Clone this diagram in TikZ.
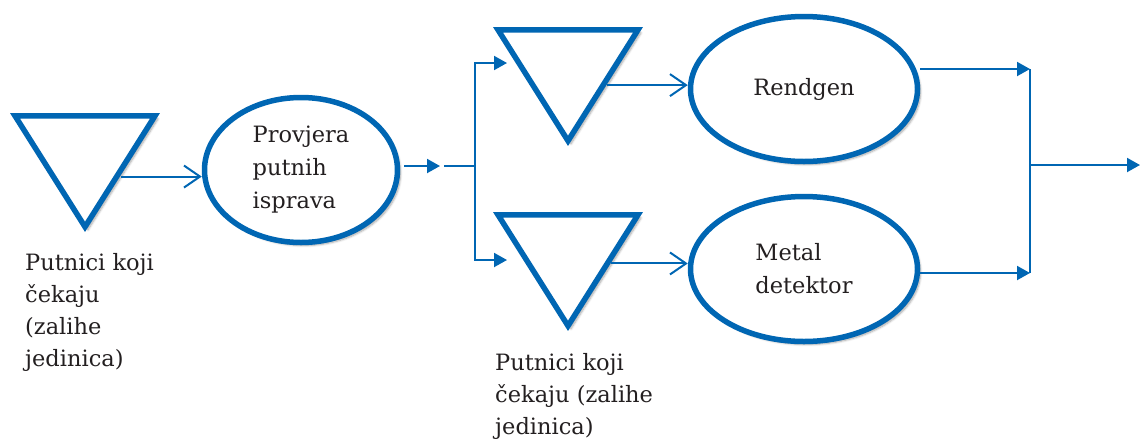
\documentclass[tikz,border=0pt]{standalone}
\usepackage{fontspec}
\setmainfont{DejaVu Serif}
\usetikzlibrary{arrows.meta}
\usetikzlibrary{calc}
\usetikzlibrary{shapes.geometric}
\usetikzlibrary{shadows.blur}
\definecolor{flowblue}{RGB}{0,102,179}
\definecolor{inktext}{RGB}{35,31,32}
\tikzset{
  softshadow/.style={blur shadow={shadow xshift=3pt, shadow yshift=-3pt, shadow blur steps=6, shadow opacity=35}},
  queue/.style={draw=flowblue, fill=white, line width=5.5pt, isosceles triangle, isosceles triangle stretches,
    rotate=-90, minimum width=140pt, minimum height=111pt, inner sep=0pt, anchor=apex, softshadow},
  activity/.style={draw=flowblue, fill=white, line width=5.5pt, ellipse, minimum width=227pt,
    minimum height=145pt, inner sep=0pt, align=left, text=inktext, softshadow},
  caption/.style={anchor=north west, inner sep=0pt, align=left, text=inktext, font=\fontsize{22.5}{32}\selectfont},
  flow/.style={draw=flowblue, line width=2pt},
  barb/.style={flow, -{Straight Barb[length=16pt,width=22pt]}},
  push/.style={flow, -{Triangle[length=13pt,width=14pt]}}
}

\begin{document}
\begin{tikzpicture}[x=1pt, y=-1pt, font=\fontsize{22.5}{33}\selectfont]
  \useasboundingbox (0,0) rectangle (1140,440);
  % waiting lines
  \node[queue] (wait1) at (85,234) {};
  \node[queue] (wait2) at (568,148) {};
  \node[queue] (wait3) at (568,333) {};
  % checks
  \node[activity, minimum width=193pt] (docs) at (301,170) {Provjera\\putnih\\isprava};
  \node[activity] (xray) at (804,89) {Rendgen};
  \node[activity] (metal) at (804,269) {Metal\\detektor};
  \node[caption] (lab1) at (25,253) {Putnici koji\\čekaju\\(zalihe\\jedinica)};
  \node[caption] (lab2) at (495,353) {Putnici koji\\čekaju (zalihe\\jedinica)};
  % flow
  \path (wait1.apex) -- (wait1.left corner) coordinate[pos=.475] (w1out);
  \draw[barb] (w1out) -- (w1out -| docs.west);
  \coordinate (gap) at (440,166);
  \coordinate (split) at (475,166);
  \coordinate (in2) at (507,63);
  \coordinate (in3) at (507,260);
  \draw[push] ([xshift=4pt]docs.east |- gap) -- (gap);
  \draw[push] ([xshift=4pt]gap) -- (split) |- (in2);
  \draw[push] (split) |- (in3);
  \path (wait2.apex) -- (wait2.left corner) coordinate[pos=.52] (w2out);
  \draw[barb] (w2out) -- (w2out -| xray.west);
  \path (wait3.apex) -- (wait3.left corner) coordinate[pos=.575] (w3out);
  \draw[barb] (w3out) -- (w3out -| metal.west);
  \coordinate (join1) at (1030,69);
  \coordinate (join2) at (1030,273);
  \coordinate (join) at (1030,165);
  \coordinate (exit) at (1140,165);
  \draw[push] (xray.east |- join1) -- (join1);
  \draw[push] (metal.east |- join2) -- (join2);
  \draw[flow] (join1) -- (join2);
  \draw[push] (join) -- (exit);
\end{tikzpicture}
\end{document}
